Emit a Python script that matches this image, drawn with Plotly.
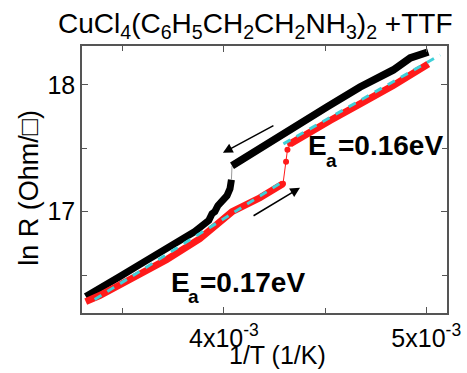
import plotly.graph_objects as go

# Cooling run (black), x in 1/K, y = ln R
cool_lo_x = [3.317e-3, 3.386e-3, 3.485e-3, 3.584e-3, 3.683e-3, 3.782e-3, 3.856e-3, 3.906e-3,
             3.925e-3, 3.941e-3, 3.955e-3, 3.970e-3, 3.990e-3, 4.005e-3, 4.015e-3, 4.030e-3, 4.037e-3]
cool_lo_y = [16.331, 16.402, 16.488, 16.583, 16.677, 16.772, 16.843, 16.906,
             16.930, 16.984, 17.000, 17.047, 17.087, 17.100, 17.126, 17.181, 17.252]
cool_jump_x = [4.037e-3, 4.040e-3]
cool_jump_y = [17.252, 17.362]
cool_hi_x = [4.040e-3, 4.079e-3, 4.178e-3, 4.342e-3, 4.510e-3, 4.673e-3, 4.837e-3, 4.921e-3, 4.970e-3, 5.010e-3]
cool_hi_y = [17.362, 17.402, 17.488, 17.669, 17.827, 17.984, 18.118, 18.213, 18.244, 18.260]

# Warming run (red)
warm_lo_x = [3.317e-3, 3.386e-3, 3.535e-3, 3.716e-3, 3.881e-3, 3.995e-3, 4.040e-3, 4.178e-3, 4.292e-3]
warm_lo_y = [16.291, 16.339, 16.465, 16.622, 16.787, 16.953, 17.000, 17.110, 17.220]
warm_jump_x = [4.292e-3, 4.307e-3, 4.314e-3, 4.327e-3]
warm_jump_y = [17.220, 17.394, 17.488, 17.535]
warm_hi_x = [4.327e-3, 4.376e-3, 4.525e-3, 4.673e-3, 4.837e-3, 5.010e-3]
warm_hi_y = [17.535, 17.583, 17.720, 17.850, 17.995, 18.165]

# Arrhenius fits (cyan dashed)
fit_lo_x = [3.361e-3, 4.282e-3]
fit_lo_y = [16.307, 17.228]
fit_hi_x = [4.294e-3, 5.069e-3]
fit_hi_y = [17.535, 18.236]

x_tickvals = [4e-3, 5e-3]
x_ticktext = ["4x10<sup>-3</sup>", "5x10<sup>-3</sup>"]
y_tickvals = [17, 18]
y_ticktext = ["17", "18"]

FONT = "Liberation Sans, Arial, sans-serif"

fig = go.Figure()
fig.add_trace(go.Scatter(x=cool_lo_x, y=cool_lo_y, mode="lines", line=dict(color="black", width=7)))
fig.add_trace(go.Scatter(x=cool_jump_x, y=cool_jump_y, mode="lines", line=dict(color="#999999", width=1)))
fig.add_trace(go.Scatter(x=cool_hi_x, y=cool_hi_y, mode="lines", line=dict(color="black", width=7.5)))
fig.add_trace(go.Scatter(x=warm_lo_x, y=warm_lo_y, mode="lines", line=dict(color="#ff1a1a", width=7)))
fig.add_trace(go.Scatter(x=warm_jump_x, y=warm_jump_y, mode="lines+markers",
                         line=dict(color="#ff1a1a", width=1), marker=dict(color="#ff1a1a", size=6)))
fig.add_trace(go.Scatter(x=warm_hi_x, y=warm_hi_y, mode="lines", line=dict(color="#ff1a1a", width=7)))
fig.add_trace(go.Scatter(x=fit_lo_x, y=fit_lo_y, mode="lines", line=dict(color="#3fd0d8", width=3, dash="8px,7px")))
fig.add_trace(go.Scatter(x=fit_hi_x, y=fit_hi_y, mode="lines", line=dict(color="#3fd0d8", width=3, dash="8px,7px")))

axis_common = dict(showline=True, linecolor="#555555", linewidth=1.5, mirror="allticks",
                   ticks="inside", ticklen=6, tickwidth=1.2, tickcolor="#555555", automargin=False,
                   showgrid=False, zeroline=False, tickfont=dict(family=FONT, size=25, color="black"))

fig.update_layout(
    width=467, height=373, showlegend=False,
    paper_bgcolor="white", plot_bgcolor="white",
    margin=dict(l=82, r=20, t=46, b=60),
    xaxis=dict(range=[3.2985e-3, 5.1025e-3], tickmode="array", tickvals=x_tickvals, ticktext=x_ticktext,
               ticklabelstandoff=2,
               minor=dict(tickmode="array", tickvals=[3.5e-3, 4.5e-3], ticks="inside", ticklen=5,
                          tickcolor="#555555"), **axis_common),
    yaxis=dict(range=[16.201, 18.307], tickmode="array", tickvals=y_tickvals, ticktext=y_ticktext,
               minor=dict(tickmode="array", tickvals=[16.5, 17.5], ticks="inside", ticklen=5,
                          tickcolor="#555555"), **axis_common),
)

fig.add_annotation(xref="paper", yref="paper", x=0.474, y=1.076, xanchor="center", yanchor="middle",
                   text="CuCl<sub>4</sub>(C<sub>6</sub>H<sub>5</sub>CH<sub>2</sub>CH<sub>2</sub>NH<sub>3</sub>)<sub>2</sub> +TTF",
                   showarrow=False, font=dict(family=FONT, size=28, color="black"))
fig.add_annotation(xref="paper", yref="paper", x=-0.145, y=0.469, xanchor="center", yanchor="middle",
                   text="ln R (Ohm/□)", textangle=-90, showarrow=False,
                   font=dict(family=FONT, size=27, color="black"))
fig.add_annotation(xref="paper", yref="paper", x=0.5357, y=-0.157, xanchor="center", yanchor="middle",
                   text="1/T (1/K)", showarrow=False, font=dict(family=FONT, size=25, color="black"))

# activation energy labels (E, subscript a, value)
def ea_label(xE, yE, xa, ya, xv, value):
    fig.add_annotation(x=xE, y=yE, xref="x", yref="y", xanchor="left", yanchor="middle",
                       text="<b>E</b>", showarrow=False, font=dict(family=FONT, size=28, color="black"))
    fig.add_annotation(x=xa, y=ya, xref="x", yref="y", xanchor="left", yanchor="middle",
                       text="<b>a</b>", showarrow=False, font=dict(family=FONT, size=19, color="black"))
    fig.add_annotation(x=xv, y=yE, xref="x", yref="y", xanchor="left", yanchor="middle",
                       text="<b>" + value + "</b>", showarrow=False,
                       font=dict(family=FONT, size=28, color="black"))

ea_label(4.405e-3, 17.524, 4.497e-3, 17.400, 4.553e-3, "=0.16eV")
ea_label(3.727e-3, 16.445, 3.813e-3, 16.330, 3.871e-3, "=0.17eV")

# direction arrows
fig.add_annotation(x=3.995e-3, y=17.465, ax=4.252e-3, ay=17.685, xref="x", yref="y", axref="x", ayref="y",
                   text="", showarrow=True, arrowhead=2, arrowsize=1.3, arrowwidth=1.5, arrowcolor="black")
fig.add_annotation(x=4.376e-3, y=17.189, ax=4.139e-3, ay=16.961, xref="x", yref="y", axref="x", ayref="y",
                   text="", showarrow=True, arrowhead=2, arrowsize=1.3, arrowwidth=1.5, arrowcolor="black")

fig.write_html("out.html", config={"displayModeBar": False},
               post_script="document.body.style.margin='0';document.body.style.padding='0';")
